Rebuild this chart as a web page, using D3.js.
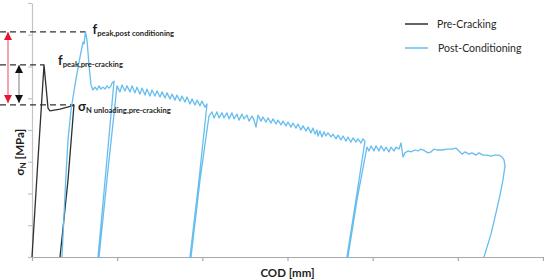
<!DOCTYPE html>
<html>
<head>
<meta charset="utf-8">
<script src="https://cdn.jsdelivr.net/npm/d3@7"></script>
<style>
  body { margin: 0; background: #fff; }
  svg { display: block; font-family: Lato, 'Open Sans', sans-serif; }
</style>
</head>
<body>
<div id="chart"></div>
<script>
// COD [mm] / sigma_N [MPa] (no tick labels in the source)
const preCrackCod = [0, 0.070, 0.141, 0.164, 0.188, 0.211, 0.329, 0.470, 0.493, 0.423, 0.329];
const preCrackSigma = [0, 3.06, 6.05, 5.39, 4.69, 4.60, 4.66, 4.76, 4.79, 2.43, 0];

const postCondCod = [
  0.352, 0.376, 0.399, 0.423, 0.458, 0.505, 0.552, 0.587, 0.599, 0.611, 0.628, 0.646, 0.669, 0.693, 0.716,
  0.740, 0.763, 0.787, 0.810, 0.834, 0.857, 0.881, 0.904, 0.928, 0.939, 0.963,
  0.869, 0.775, 0.787, 0.892, 0.998,
  1.033, 1.057, 1.092, 1.115, 1.151, 1.174, 1.209, 1.233, 1.268, 1.292, 1.327, 1.350, 1.385, 1.409, 1.444,
  1.468, 1.503, 1.526, 1.562, 1.585, 1.620, 1.644, 1.679, 1.702, 1.738, 1.761, 1.796, 1.820, 1.855, 1.879,
  1.914, 1.937, 1.973, 1.996, 2.031, 2.055,
  1.961, 1.855, 1.867, 1.973, 2.078,
  2.113, 2.137, 2.172, 2.196, 2.231, 2.254, 2.290, 2.313, 2.348, 2.372, 2.407, 2.430, 2.466, 2.489, 2.524,
  2.548, 2.583, 2.607, 2.630, 2.654, 2.689, 2.712, 2.747, 2.771, 2.806, 2.830, 2.865, 2.888, 2.924, 2.947,
  2.982, 3.006, 3.041, 3.064, 3.100, 3.123, 3.158, 3.182, 3.217, 3.241, 3.276, 3.299, 3.323, 3.346, 3.358,
  3.381, 3.405, 3.428, 3.452, 3.475, 3.511, 3.534, 3.570, 3.593, 3.628, 3.652, 3.687, 3.710, 3.745, 3.769,
  3.804, 3.828, 3.863, 3.886, 3.910,
  3.804, 3.698, 3.710, 3.816, 3.933,
  3.957, 3.980, 4.016, 4.039, 4.074, 4.098, 4.133, 4.156, 4.192, 4.215, 4.250, 4.274, 4.309, 4.333, 4.356,
  4.379, 4.415, 4.450, 4.497, 4.532, 4.567, 4.614, 4.650, 4.685, 4.720, 4.755, 4.814, 4.873, 4.931, 4.978,
  5.014, 5.049, 5.084, 5.131, 5.166, 5.213, 5.248, 5.295, 5.342, 5.389, 5.436, 5.483, 5.518, 5.542, 5.554,
  5.530, 5.495, 5.448, 5.389, 5.307
];
const postCondSigma = [
  0, 1.32, 2.58, 3.69, 4.63, 5.42, 6.14, 6.61, 6.77, 6.71, 7.09, 6.83, 6.05, 5.42, 5.26,
  5.35, 5.26, 5.39, 5.29, 5.35, 5.29, 5.39, 5.32, 5.39, 5.48, 5.54,
  2.74, 0, 0, 2.74, 5.39,
  5.20, 5.42, 5.23, 5.39, 5.20, 5.39, 5.17, 5.35, 5.13, 5.32, 5.10, 5.29, 5.07, 5.26, 5.07,
  5.23, 5.04, 5.20, 5.01, 5.17, 4.98, 5.13, 4.94, 5.10, 4.91, 5.07, 4.88, 5.04, 4.82, 4.98,
  4.79, 4.94, 4.76, 4.91, 4.72, 4.82,
  2.43, 0, 0, 2.43, 4.44,
  4.57, 4.38, 4.57, 4.38, 4.54, 4.38, 4.54, 4.35, 4.54, 4.35, 4.50, 4.31, 4.50, 4.35, 4.47,
  4.28, 4.44, 4.31, 4.09, 4.47, 4.28, 4.41, 4.25, 4.38, 4.22, 4.35, 4.19, 4.31, 4.16, 4.28,
  4.13, 4.25, 4.09, 4.22, 4.06, 4.19, 4.00, 4.13, 3.97, 4.09, 3.91, 4.06, 3.87, 4.00, 3.81,
  3.97, 3.78, 3.94, 3.81, 3.91, 3.78, 3.87, 3.72, 3.84, 3.69, 3.81, 3.65, 3.78, 3.62, 3.75,
  3.62, 3.72, 3.59, 3.72, 3.65,
  1.80, 0, 0, 1.80, 3.46,
  3.34, 3.50, 3.34, 3.50, 3.34, 3.50, 3.34, 3.46, 3.31, 3.46, 3.34, 3.46, 3.40, 3.59, 3.15,
  3.28, 3.34, 3.31, 3.37, 3.34, 3.40, 3.34, 3.28, 3.31, 3.40, 3.37, 3.37, 3.40, 3.40, 3.43,
  3.34, 3.24, 3.31, 3.24, 3.28, 3.21, 3.28, 3.21, 3.21, 3.18, 3.21, 3.21, 3.15, 3.06, 2.87,
  2.43, 1.95, 1.39, 0.72, 0
];

const seriesNames = ['Pre-Cracking', 'Post-Conditioning'];
const seriesColors = ['#2e3131', '#66bdee'];

const fPeakPost = 7.09;
const fPeakPre = 6.05;
const sigmaUnloadPre = 4.79;
const fPeakPostCod = 0.628;
const fPeakPreCod = 0.141;
const sigmaUnloadCod = 0.493;

const width = 544;
const height = 280;
const margin = { top: 3, right: 1, bottom: 23, left: 32 };

const svg = d3.select('#chart').append('svg').attr('width', width).attr('height', height);

const x = d3.scaleLinear().domain([0, 6]).range([margin.left, width - margin.right]);
const y = d3.scaleLinear().domain([0, 8]).range([height - margin.bottom, margin.top]);

// axes, no labels on the ticks
svg.append('g')
  .attr('transform', `translate(0,${height - margin.bottom})`)
  .call(d3.axisBottom(x).ticks(6).tickSize(4).tickSizeOuter(0).tickFormat(''))
  .call((g) => g.selectAll('path,line').attr('stroke', '#a9a9a9').attr('stroke-width', 1.2));

svg.append('g')
  .attr('transform', `translate(${margin.left},0)`)
  .call(d3.axisLeft(y).ticks(8).tickSize(4).tickSizeOuter(0).tickFormat(''))
  .call((g) => g.selectAll('path,line').attr('stroke', '#c4c4c4').attr('stroke-width', 1.2));

// dashed reference levels
const refs = [[fPeakPost, fPeakPostCod], [fPeakPre, fPeakPreCod], [sigmaUnloadPre, sigmaUnloadCod]];
svg.append('g').selectAll('line').data(refs).join('line')
  .attr('x1', 0)
  .attr('x2', (d) => x(d[1]))
  .attr('y1', (d) => y(d[0]))
  .attr('y2', (d) => y(d[0]))
  .attr('stroke', '#333')
  .attr('stroke-width', 1.2)
  .attr('stroke-dasharray', '6,4');

const line = d3.line().x((d) => x(d[0])).y((d) => y(d[1]));
const series = [
  d3.zip(preCrackCod, preCrackSigma),
  d3.zip(postCondCod, postCondSigma)
];
svg.append('g').selectAll('path').data(series).join('path')
  .attr('d', line)
  .attr('fill', 'none')
  .attr('stroke', (d, i) => seriesColors[i])
  .attr('stroke-width', 1.3)
  .attr('stroke-linejoin', 'round');

// double arrows
const defs = svg.append('defs');
function marker(id, color) {
  defs.append('marker')
    .attr('id', id)
    .attr('viewBox', '0 0 10 10')
    .attr('refX', 10).attr('refY', 5)
    .attr('markerUnits', 'userSpaceOnUse')
    .attr('markerWidth', 9).attr('markerHeight', 8)
    .attr('orient', 'auto-start-reverse')
    .append('path').attr('d', 'M0,0L10,5L0,10Z').attr('fill', color);
}
marker('arrRed', '#ea1233');
marker('arrBlack', '#111');

svg.append('line')
  .attr('x1', 8).attr('x2', 8)
  .attr('y1', y(fPeakPost)).attr('y2', y(sigmaUnloadPre) - 2)
  .attr('stroke', '#f2708c').attr('stroke-width', 1.3)
  .attr('marker-start', 'url(#arrRed)').attr('marker-end', 'url(#arrRed)');

svg.append('line')
  .attr('x1', 19).attr('x2', 19)
  .attr('y1', y(fPeakPre)).attr('y2', y(sigmaUnloadPre) - 2)
  .attr('stroke', '#9a9a9a').attr('stroke-width', 1.3)
  .attr('marker-start', 'url(#arrBlack)').attr('marker-end', 'url(#arrBlack)');

// annotations
function annot(px, py, main, sub) {
  const t = svg.append('text').attr('x', px).attr('y', py).attr('fill', '#1e1e1e').attr('font-weight', 700);
  t.append('tspan').attr('font-size', 13).text(main);
  t.append('tspan').attr('font-size', 7.6).attr('dy', 2).text(sub);
}
annot(x(fPeakPostCod) + 7, y(fPeakPost) + 2, 'f', 'peak,post conditioning');
annot(x(fPeakPreCod) + 14, y(fPeakPre) + 0, 'f', 'peak,pre-cracking');
annot(x(sigmaUnloadCod) + 4, y(sigmaUnloadPre) + 6, 'σ', 'N unloading,pre-cracking');

// axis titles
svg.append('text')
  .attr('x', x(3)).attr('y', 277)
  .attr('text-anchor', 'middle')
  .attr('font-size', 11.5).attr('font-weight', 700).attr('fill', '#1e1e1e')
  .text('COD [mm]');

const yl = svg.append('text')
  .attr('transform', `translate(24,${y(3.3)}) rotate(-90)`)
  .attr('text-anchor', 'middle')
  .attr('font-size', 11.5).attr('font-weight', 700).attr('fill', '#1e1e1e');
yl.append('tspan').text('σ');
yl.append('tspan').attr('font-size', 8).attr('dy', 2).text('N');
yl.append('tspan').attr('dy', -2).text(' [MPa]');

// legend
const legend = svg.append('g').selectAll('g').data(seriesNames).join('g')
  .attr('transform', (d, i) => `translate(405,${24 + i * 24})`);
legend.append('line').attr('x1', 0).attr('x2', 23)
  .attr('stroke', (d, i) => seriesColors[i]).attr('stroke-width', 1.5);
legend.append('text').attr('x', (d, i) => 32 + i).attr('y', 4)
  .attr('font-size', 10.5).attr('fill', '#2a2a2a')
  .text((d) => d);
</script>
</body>
</html>
